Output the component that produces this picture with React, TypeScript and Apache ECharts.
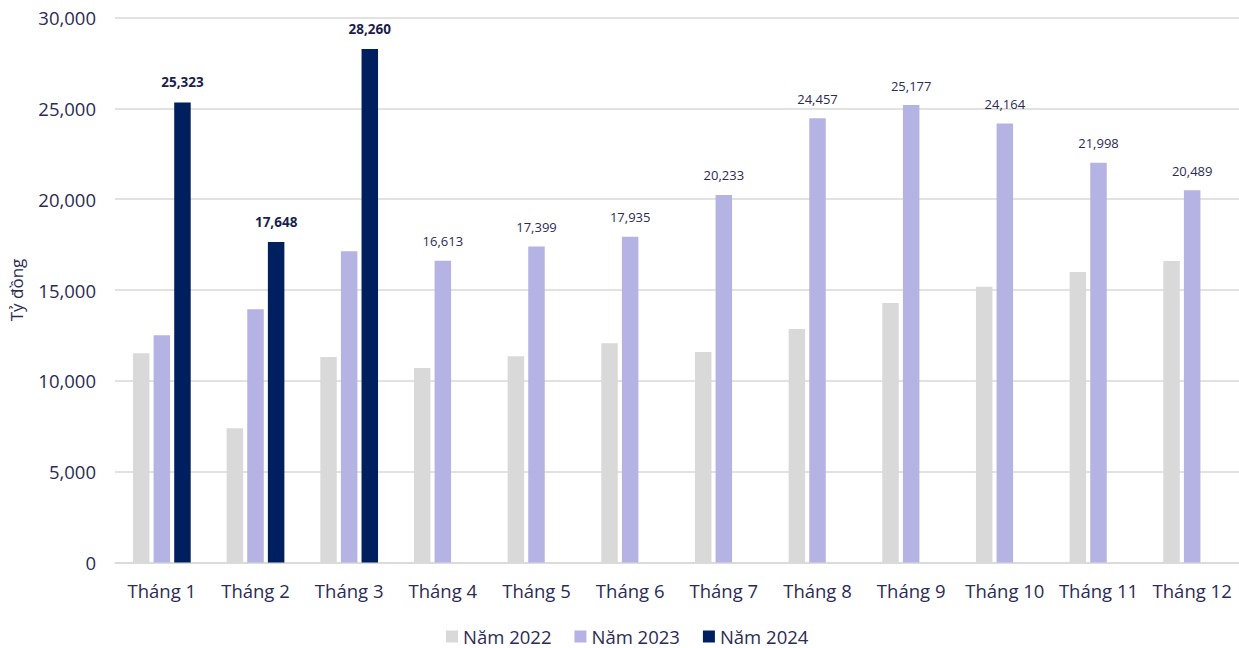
import React, { useEffect, useRef } from "react";
import * as echarts from "echarts";

const categories = ["Tháng 1", "Tháng 2", "Tháng 3", "Tháng 4", "Tháng 5", "Tháng 6", "Tháng 7", "Tháng 8", "Tháng 9", "Tháng 10", "Tháng 11", "Tháng 12"];
const seriesNames = ["Năm 2022", "Năm 2023", "Năm 2024"];
const values2022 = [11516, 7388, 11313, 10707, 11350, 12066, 11588, 12854, 14285, 15183, 15991, 16597];
const values2023 = [12507, 13938, 17131, 16613, 17399, 17935, 20233, 24457, 25177, 24164, 21998, 20489];
const values2024: (number | null)[] = [25323, 17648, 28260, null, null, null, null, null, null, null, null, null];
// 2023 labels are shown only from Tháng 4 on
const label2023From = 3;

const FONT = "'Open Sans', 'Noto Sans', sans-serif";
const TEXT = "#2b2b55";

export default function App() {
  const ref = useRef<HTMLDivElement>(null);
  useEffect(() => {
    if (!ref.current) return;
    const chart = echarts.init(ref.current, null, { renderer: "svg" });
    const fmt = (v: number) => v.toLocaleString("en-US");
    chart.setOption({
      animation: false,
      textStyle: { fontFamily: FONT },
      grid: { left: 115, right: 0, top: 17.5, bottom: 85.5, containLabel: false },
      legend: {
        top: 627,
        left: 446,
        padding: 0,
        itemWidth: 12,
        itemHeight: 12,
        itemGap: 23,
        icon: "rect",
        textStyle: { fontSize: 18.5, color: TEXT, fontFamily: FONT },
        data: seriesNames,
      },
      xAxis: {
        type: "category",
        data: categories,
        axisTick: { show: false },
        axisLine: { lineStyle: { color: "#d9d9d9", width: 1.5 } },
        axisLabel: { fontSize: 18.5, color: TEXT, margin: 18, fontFamily: FONT, interval: 0 },
      },
      yAxis: {
        type: "value",
        min: 0,
        max: 30000,
        interval: 5000,
        name: "Tỷ đồng",
        nameLocation: "middle",
        nameGap: 90,
        nameTextStyle: { fontSize: 17, color: TEXT, fontFamily: FONT },
        axisLabel: { fontSize: 18.5, color: TEXT, margin: 19, formatter: (v: number) => fmt(v), fontFamily: FONT },
        splitLine: { lineStyle: { color: "#d9d9d9", width: 1.5 } },
        axisLine: { show: false },
        axisTick: { show: false },
      },
      series: [
        {
          name: seriesNames[0],
          type: "bar",
          data: values2022,
          barWidth: 16.5,
          barGap: "25%",
          itemStyle: { color: "#d9d9d9" },
        },
        {
          name: seriesNames[1],
          type: "bar",
          data: values2023.map((v, i) => ({
            value: v,
            label: { show: i >= label2023From },
          })),
          barWidth: 16.5,
          barGap: "25%",
          itemStyle: { color: "#b4b3e3" },
          label: {
            show: false,
            position: "top",
            distance: 13,
            fontSize: 13,
            color: TEXT,
            fontFamily: FONT,
            formatter: (p: any) => fmt(p.value),
          },
        },
        {
          name: seriesNames[2],
          type: "bar",
          data: values2024,
          barWidth: 16.5,
          barGap: "25%",
          itemStyle: { color: "#001f5f" },
          label: {
            show: true,
            position: "top",
            distance: 13,
            fontSize: 13.5,
            fontWeight: "bold",
            color: "#1a1f4d",
            fontFamily: FONT,
            formatter: (p: any) => fmt(p.value),
          },
        },
      ],
    });
    return () => chart.dispose();
  }, []);
  return <div ref={ref} style={{ position: "fixed", left: 0, top: 0, width: 1239, height: 648, background: "#fff" }} />;
}
